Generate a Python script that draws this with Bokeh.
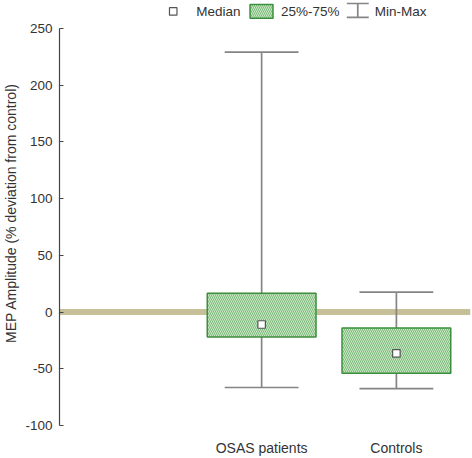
from bokeh.plotting import figure
from bokeh.models import LinearAxis, FixedTicker, Span, Range1d
from bokeh.core.properties import value
from bokeh.embed import file_html
from bokeh.resources import INLINE

# Box-plot summary of MEP amplitude per group
groups = ["OSAS patients", "Controls"]
positions = [1.5, 2.5]
minimum = [-66.5, -67.5]
q1 = [-22.0, -54.0]
median = [-11.0, -36.5]
q3 = [16.5, -14.0]
maximum = [229.0, 17.5]
y_ticks = [-100, -50, 0, 50, 100, 150, 200, 250]

FONT = "Liberation Sans"
TXT = "#333333"
WHISK = "#858585"
BOX_FILL = "#c9e8c3"
BOX_HATCH = "#7cba7c"
BOX_LINE = "#3c8e3c"

X_MAX = 3.05
Y_MIN, Y_TOP = -100, 274.5
FRAME_W, FRAME_H = 412, 428

p = figure(width=472, height=458, output_backend="svg", toolbar_location=None,
           x_range=Range1d(0, X_MAX), y_range=Range1d(Y_MIN, Y_TOP),
           x_axis_location=None, y_axis_location=None,
           min_border_left=58, min_border_right=2, min_border_top=0,
           min_border_bottom=30, outline_line_color=None,
           background_fill_color="white", border_fill_color="white")
p.xgrid.visible = False
p.ygrid.visible = False

# y axis stops at 250, leaving room for the key above
yaxis = LinearAxis(bounds=(-100, 250), ticker=FixedTicker(ticks=y_ticks),
                   axis_label="MEP Amplitude (% deviation from control)",
                   major_label_overrides={t: str(t) for t in y_ticks})
yaxis.axis_line_color = "#444444"
yaxis.axis_line_width = 1.2
yaxis.major_tick_in = 4
yaxis.major_tick_out = 0
yaxis.major_tick_line_color = "#444444"
yaxis.minor_tick_line_color = None
yaxis.major_label_text_font = FONT
yaxis.major_label_text_font_size = "13.5px"
yaxis.major_label_text_color = TXT
yaxis.major_label_standoff = 7
yaxis.axis_label_text_font = FONT
yaxis.axis_label_text_font_size = "14px"
yaxis.axis_label_text_font_style = "normal"
yaxis.axis_label_text_color = TXT
yaxis.axis_label_standoff = 3
p.add_layout(yaxis, "left")

xaxis = LinearAxis(ticker=FixedTicker(ticks=positions),
                   major_label_overrides={pos: g for pos, g in zip(positions, groups)})
xaxis.axis_line_color = None
xaxis.major_tick_line_color = None
xaxis.minor_tick_line_color = None
xaxis.major_label_text_font = FONT
xaxis.major_label_text_font_size = "14px"
xaxis.major_label_text_color = TXT
xaxis.major_label_standoff = 8
p.add_layout(xaxis, "below")

# reference line at zero deviation
p.add_layout(Span(location=0, dimension="width", line_color="#c7bf98",
                  line_width=6, level="underlay"))

# whiskers and caps
cap_half = 0.274
box_half = 0.4035
p.segment(x0=positions, y0=minimum, x1=positions, y1=maximum,
          line_color=WHISK, line_width=1.7)
p.segment(x0=[x - cap_half for x in positions], y0=minimum,
          x1=[x + cap_half for x in positions], y1=minimum,
          line_color=WHISK, line_width=1.7)
p.segment(x0=[x - cap_half for x in positions], y0=maximum,
          x1=[x + cap_half for x in positions], y1=maximum,
          line_color=WHISK, line_width=1.7)

# interquartile boxes
p.quad(left=[x - box_half for x in positions], right=[x + box_half for x in positions],
       bottom=q1, top=q3, fill_color=BOX_FILL, hatch_pattern="\\",
       hatch_color=BOX_HATCH, hatch_scale=4, hatch_weight=1,
       line_color=BOX_LINE, line_width=1.5)

# medians
p.scatter(x=positions, y=median, marker="square", size=7.5,
          fill_color="white", line_color="#555555", line_width=1.2)


# key along the top edge, placed in pixel offsets from the frame corner
def kx(px):
    return (px - 58) * X_MAX / FRAME_W


def ky(py):
    return Y_TOP - py * (Y_TOP - Y_MIN) / FRAME_H


key_y = ky(11)
p.scatter(x=[kx(172)], y=[key_y], marker="square", size=7.5,
          fill_color="white", line_color="#555555", line_width=1.2)
p.quad(left=[kx(249)], right=[kx(272)], top=[ky(4)], bottom=[ky(18)],
       fill_color=BOX_FILL, hatch_pattern="\\", hatch_color=BOX_HATCH,
       hatch_scale=4, hatch_weight=1, line_color=BOX_LINE, line_width=1.5)
p.segment(x0=[kx(357)], y0=[ky(3)], x1=[kx(357)], y1=[ky(17)],
          line_color=WHISK, line_width=1.7)
p.segment(x0=[kx(346), kx(346)], y0=[ky(3), ky(17)],
          x1=[kx(368), kx(368)], y1=[ky(3), ky(17)],
          line_color=WHISK, line_width=1.7)
p.text(x=[kx(195), kx(280), kx(374)], y=[key_y] * 3,
       text=["Median", "25%-75%", "Min-Max"],
       text_font=value(FONT), text_font_size="13.5px", text_color=TXT,
       text_baseline="middle", text_align="left")

open("out.html", "w").write(file_html(p, INLINE))
